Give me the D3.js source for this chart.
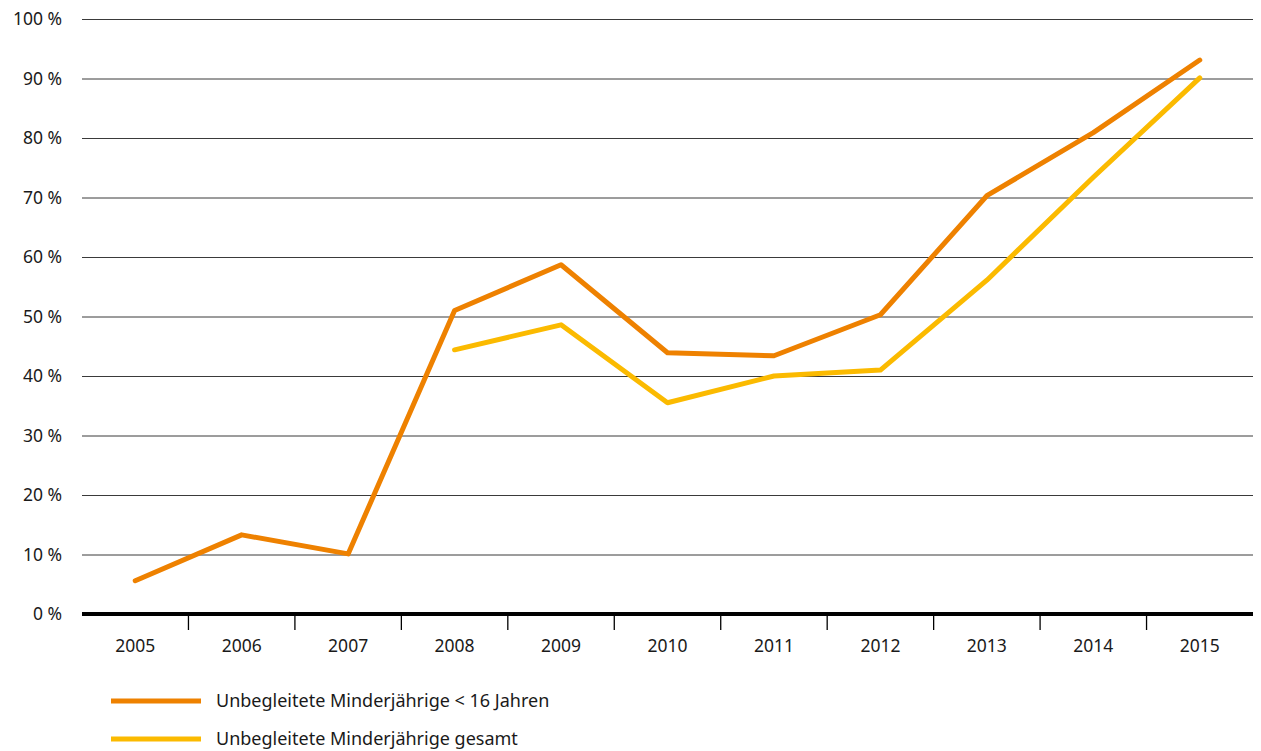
<!DOCTYPE html>
<html>
<head>
<meta charset="utf-8">
<script src="https://cdn.jsdelivr.net/npm/d3@7"></script>
<style>
  body { margin: 0; background: #fff; }
  text { font-family: "Noto Sans", "Open Sans", sans-serif; fill: #1a1a1a; }
</style>
</head>
<body>
<div id="chart"></div>
<script>
var years = ['2005', '2006', '2007', '2008', '2009', '2010', '2011', '2012', '2013', '2014', '2015'];
var under16 = [5.6, 13.3, 10.1, 51.0, 58.7, 43.9, 43.4, 50.3, 70.3, 80.9, 93.1];
var total = [null, null, null, 44.4, 48.6, 35.5, 40.0, 41.0, 56.1, 73.4, 90.1];
var yTicks = [0, 10, 20, 30, 40, 50, 60, 70, 80, 90, 100];
var seriesNames = ['Unbegleitete Minderjährige < 16 Jahren', 'Unbegleitete Minderjährige gesamt'];
var seriesColors = ['#ee8100', '#fbba00'];

var width = 1261, height = 751;
var svg = d3.select('#chart').append('svg')
  .attr('width', width)
  .attr('height', height);

var x = d3.scaleBand().domain(years).range([82, 1253]);
var y = d3.scaleLinear().domain([0, 100]).range([614, 19]);

// grid
svg.append('g').selectAll('line.grid').data(yTicks.filter(function(d) { return d > 0; }))
  .enter().append('line')
  .attr('x1', 82).attr('x2', 1253)
  .attr('y1', function(d) { return y(d) + 0.5; })
  .attr('y2', function(d) { return y(d) + 0.5; })
  .attr('stroke', '#3a3a3a')
  .attr('stroke-width', 1);

// y labels
svg.append('g').selectAll('text.ylab').data(yTicks)
  .enter().append('text')
  .attr('x', 62)
  .attr('y', function(d) { return y(d); })
  .attr('dy', '0.35em')
  .attr('text-anchor', 'end')
  .attr('font-size', 17.5)
  .text(function(d) { return d + ' %'; });

// x axis
var xAxis = svg.append('g').attr('transform', 'translate(0,' + y(0) + ')');
xAxis.append('line')
  .attr('x1', 82).attr('x2', 1253)
  .attr('stroke', '#000').attr('stroke-width', 4);
xAxis.selectAll('line.tick').data(years.slice(1))
  .enter().append('line')
  .attr('x1', function(d) { return x(d); })
  .attr('x2', function(d) { return x(d); })
  .attr('y1', 0).attr('y2', 16)
  .attr('stroke', '#000').attr('stroke-width', 1.3);
xAxis.selectAll('text').data(years)
  .enter().append('text')
  .attr('x', function(d) { return x(d) + x.bandwidth() / 2; })
  .attr('y', 32)
  .attr('dy', '0.35em')
  .attr('text-anchor', 'middle')
  .attr('font-size', 17.5)
  .text(function(d) { return d; });

// lines
var line = d3.line()
  .defined(function(d) { return d != null; })
  .x(function(d, i) { return x(years[i]) + x.bandwidth() / 2; })
  .y(function(d) { return y(d); });

[under16, total].forEach(function(data, k) {
  svg.append('path')
    .datum(data)
    .attr('d', line)
    .attr('fill', 'none')
    .attr('stroke', seriesColors[k])
    .attr('stroke-width', 5)
    .attr('stroke-linejoin', 'round')
    .attr('stroke-linecap', 'round');
});

// legend
var legend = svg.append('g').selectAll('g').data(seriesNames)
  .enter().append('g')
  .attr('transform', function(d, i) { return 'translate(0,' + (701 + i * 38) + ')'; });
legend.append('line')
  .attr('x1', 111).attr('x2', 201)
  .attr('stroke', function(d, i) { return seriesColors[i]; })
  .attr('stroke-width', 5);
legend.append('text')
  .attr('x', 216)
  .attr('dy', '0.35em')
  .attr('font-size', 18)
  .text(function(d) { return d; });
</script>
</body>
</html>
